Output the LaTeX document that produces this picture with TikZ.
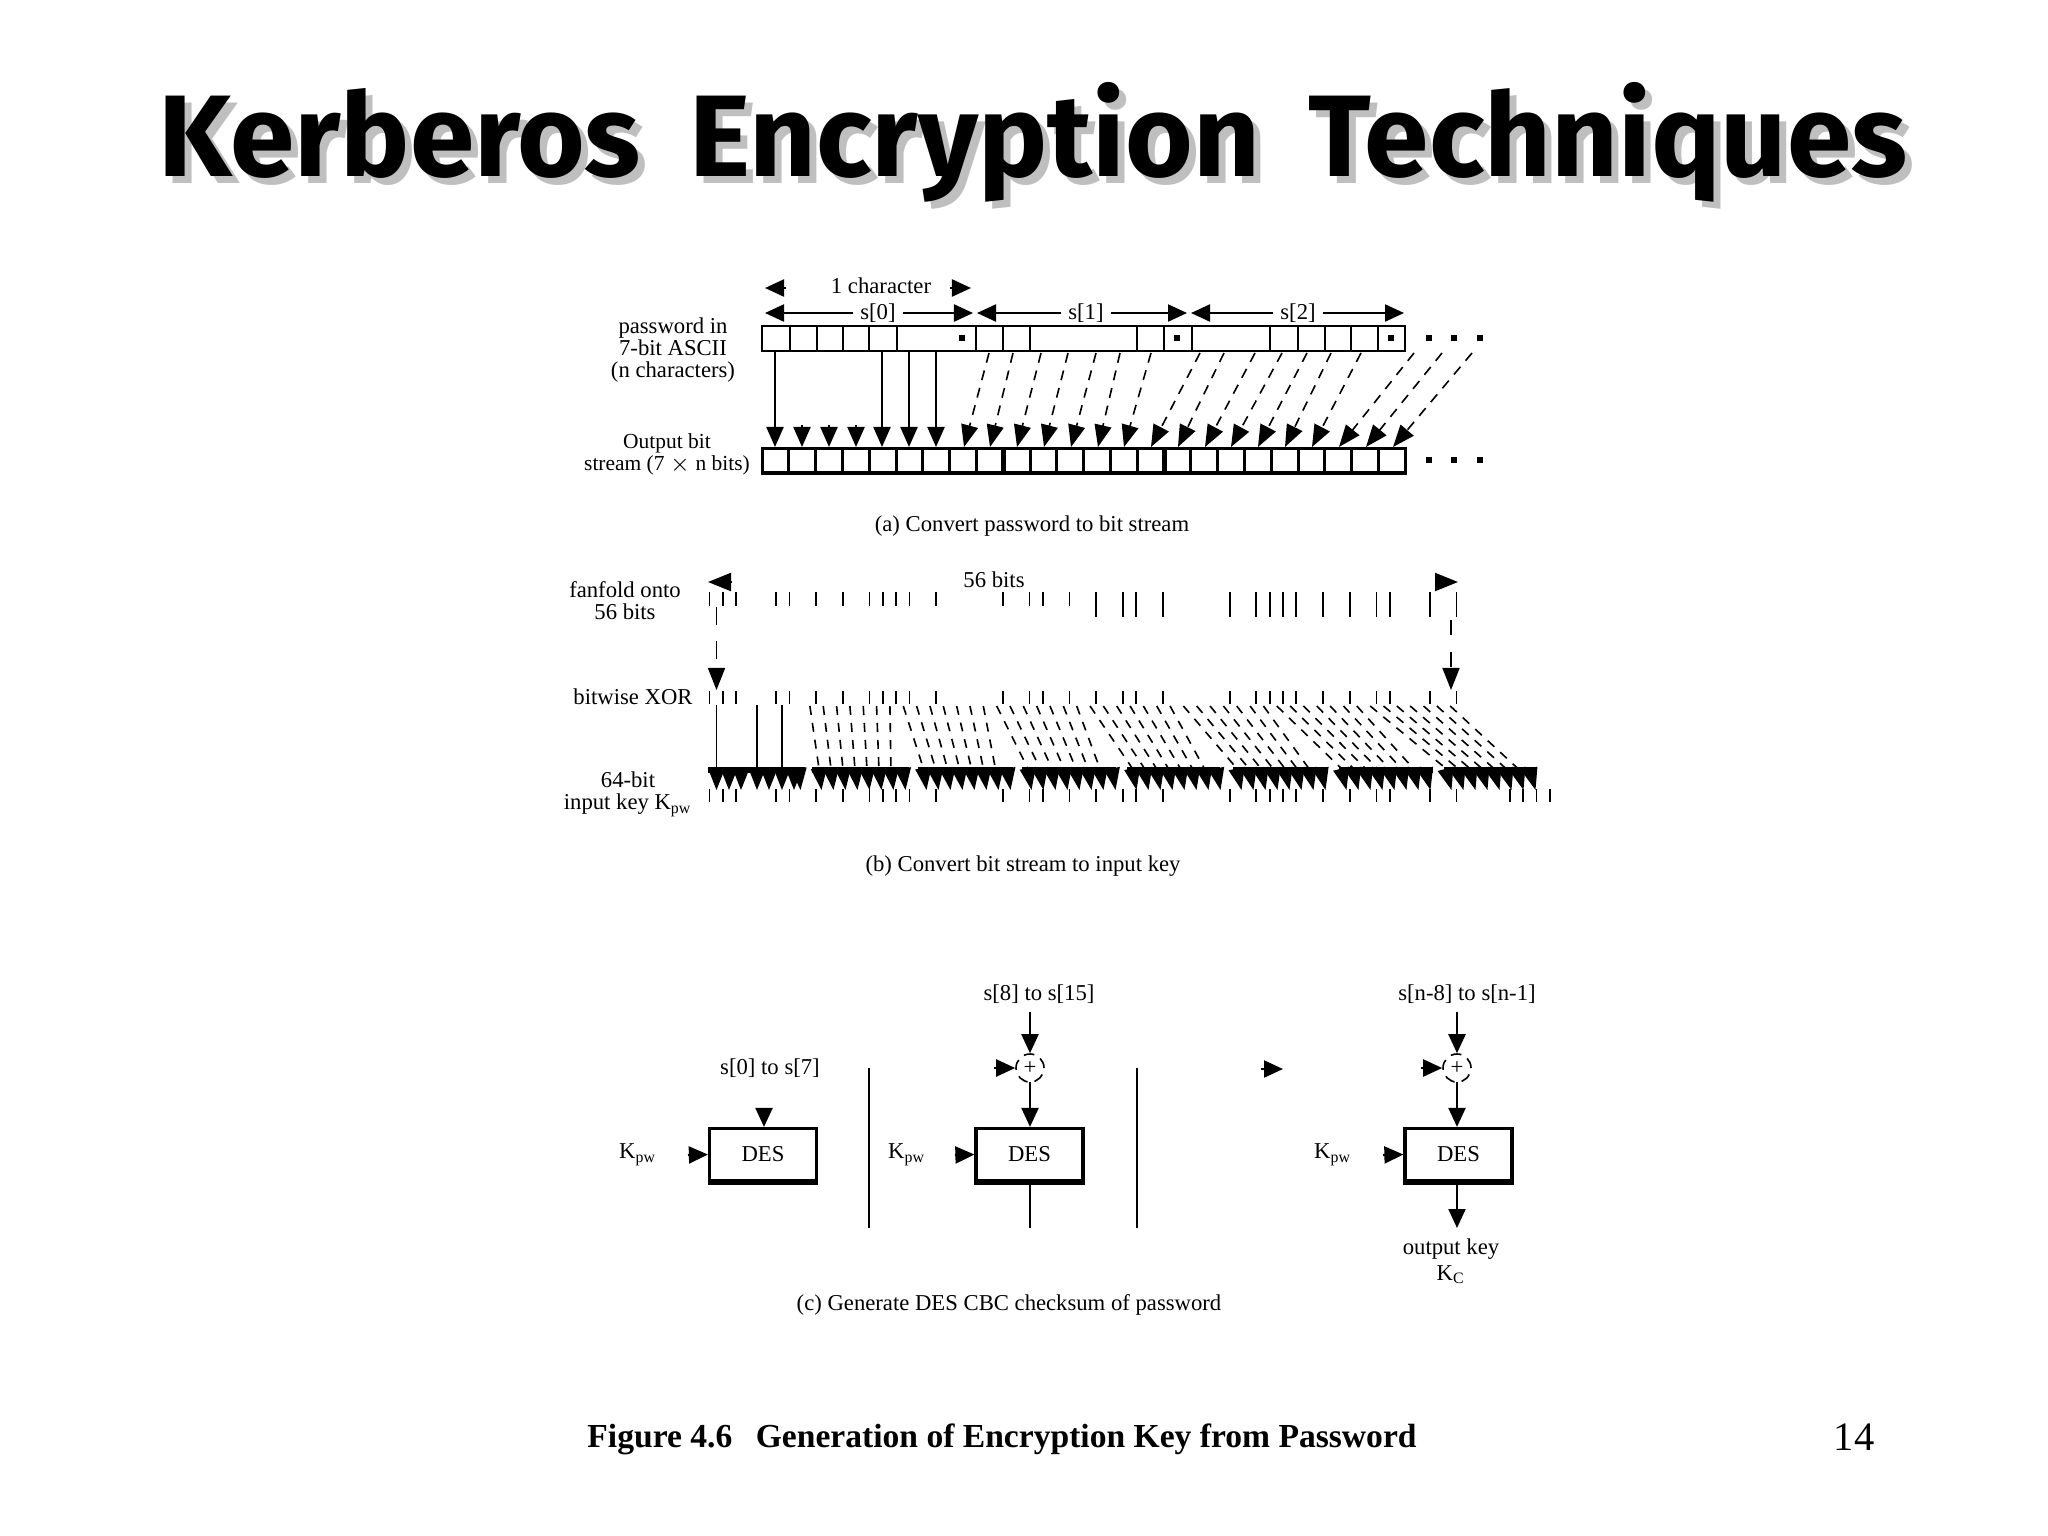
\documentclass[tikz,border=0pt]{standalone}
\usepackage{fontspec}
\usepackage{amsmath}
\usetikzlibrary{arrows.meta}
\setmainfont{Liberation Serif}
\newfontfamily\titlefont{Fira Sans}
\newcommand{\slidetitle}{Kerberos \hspace{6pt}Encryption \hspace{6pt}Techniques}

\tikzset{
    labeltext/.style={inner sep=0pt, align=center, font=\fontsize{6.45}{6.3}\selectfont},
    titletext/.style={anchor=base, inner sep=0pt, font=\titlefont\bfseries\fontsize{33}{38}\selectfont},
    barline/.style={line width=0.025cm},
    tickline/.style={line width=0.018cm},
    headarrow/.style={line width=0.022cm, -{Triangle[length=0.19cm, width=0.17cm]}},
    widearrow/.style={line width=0.022cm, -{Triangle[length=0.23cm, width=0.18cm]}},
    thinarrow/.style={line width=0.016cm, -{Triangle[length=0.22cm, width=0.17cm]}},
    slantarrow/.style={thinarrow, dash pattern=on 0.1cm off 0.08cm},
    desbox/.style={draw, line width=0.032cm, minimum width=1.07cm, minimum height=0.52cm,
        inner sep=0pt, font=\fontsize{6.45}{7.2}\selectfont},
    xorsum/.style={circle, draw, densely dashed, line width=0.016cm, minimum size=0.28cm,
        inner sep=0pt, font=\fontsize{6.45}{7.2}\selectfont},
}

\begin{document}
\begin{tikzpicture}[x=0.01cm, y=-0.01cm]
    \useasboundingbox (0,0) rectangle (2048,1536);
    \fill[white] (0,0) rectangle (2048,1536);

    % Title with its shadow
    \node[titletext, text=black!25] (titleshadow) at (1040,183) {\slidetitle};
    \node[titletext] (title) at (1033,176) {\slidetitle};

    % (a) password to bit stream
    \node[labeltext] (onechar) at (881,286) {1 character};
    \coordinate (onecharl) at (786,288);
    \coordinate (onecharlt) at (765,288);
    \coordinate (onecharr) at (950,288);
    \coordinate (onecharrt) at (971,288);
    \draw[headarrow] (onecharl) -- (onecharlt);
    \draw[headarrow] (onecharr) -- (onecharrt);

    \node[labeltext, fill=white, inner xsep=2pt] (szero) at (878,313) {s[0]};
    \node[labeltext, fill=white, inner xsep=2pt] (sone) at (1086,313) {s[1]};
    \node[labeltext, fill=white, inner xsep=2pt] (stwo) at (1298,313) {s[2]};
    \coordinate (s0l) at (765,313);
    \coordinate (s0r) at (973,313);
    \coordinate (s1l) at (977,313);
    \coordinate (s1r) at (1187,313);
    \coordinate (s2l) at (1191,313);
    \coordinate (s2r) at (1404,313);
    \draw[headarrow] (szero) -- (s0l);
    \draw[headarrow] (szero) -- (s0r);
    \draw[headarrow] (sone) -- (s1l);
    \draw[headarrow] (sone) -- (s1r);
    \draw[headarrow] (stwo) -- (s2l);
    \draw[headarrow] (stwo) -- (s2r);

    \node[labeltext] (pwlabel) at (673,350) {password in\\7-bit ASCII\\(n characters)};
    \node[labeltext, font=\fontsize{6.1}{6.3}\selectfont] (bitlabel) at (667,454) {Output bit\\stream (7 $\times$ n bits)};

    % password cells and bit cells
    \draw[barline] (762,326) rectangle (1405,351);
    \foreach \xa in {790,817,843,869,897,976,1003,1030,1137,1164,1192,1270,1298,1325,1351,1378}
        \draw[barline] (\xa,326) -- (\xa,351);
    \draw[line width=0.03cm] (762,448) rectangle (1405,473);
    \draw[line width=0.045cm] (762,473) -- (1405,473);
    \foreach \xa in {1,...,23}
        \draw[line width=0.03cm] ({762+26.8*\xa},448) -- ({762+26.8*\xa},473);
    \draw[line width=0.05cm] (1003,448) -- (1003,473);
    \draw[line width=0.05cm] (1164,448) -- (1164,473);

    % dots
    \foreach \xa/\ya in {962/338,1176.5/338,1391/338,1429/338,1454/338,1480/338,1429/460,1454/460,1480/460}
        \fill (\xa-3,\ya-3) rectangle (\xa+3,\ya+3);

    % bits into the stream
    \foreach \xa [count=\ia from 0] in {775,882,909,936} {
        \coordinate (pwa\ia) at (\xa,351);
        \coordinate (bita\ia) at (\xa,447);
        \draw[line width=0.022cm, -{Triangle[length=0.2cm, width=0.17cm]}] (pwa\ia) -- (bita\ia);
    }
    \foreach \xa [count=\ia from 1] in {802,829,856} {
        \coordinate (pwb\ia) at (\xa,425);
        \coordinate (bitb\ia) at (\xa,447);
        \draw[line width=0.022cm, -{Triangle[length=0.2cm, width=0.17cm]}] (pwb\ia) -- (bitb\ia);
    }
    \foreach \xa/\xb [count=\ia from 7] in {989/964,1013/990,1041/1017,1068/1044,1096/1071,1120/1098,1151/1124,1200/1151,1224/1178,1255/1205,1282/1231,1307/1258,1331/1285,1361/1312,1414/1339,1442/1366,1472/1393} {
        \coordinate (pwc\ia) at (\xa,353);
        \coordinate (bitc\ia) at (\xb,447);
        \draw[slantarrow] (pwc\ia) -- (bitc\ia);
    }

    % (a) caption
    \node[labeltext] (capa) at (1032,526) {(a) Convert password to bit stream};

    % (b) fanfold
    \node[labeltext] (fanlabel) at (625,601) {fanfold onto\\56 bits};
    \node[labeltext] (xorlabel) at (633,697) {bitwise XOR};
    \node[labeltext] (keylabel) at (628,794) {64-bit\\input key K$_{\text{pw}}$};
    \node[labeltext] (fiftysix) at (994,580) {56 bits};
    \coordinate (fanl) at (732,582);
    \coordinate (fanlt) at (708,582);
    \coordinate (fanr) at (1435,582);
    \coordinate (fanrt) at (1458,582);
    \draw[widearrow] (fanl) -- (fanlt);
    \draw[widearrow] (fanr) -- (fanrt);

    % bit ticks on the three rows
    \foreach \ia in {0,1,2,5,6,8,10,12,13,14,15,17,22,24,25,27,29,31,32,34,39,41,42,43,44,46,48,50,51,54,56} {
        \pgfmathsetmacro{\xa}{709.4+13.34*\ia}
        \pgfmathsetmacro{\ya}{\ia>=29 ? 617 : 606}
        \draw[tickline] (\xa,592) -- (\xa,\ya);
        \draw[tickline] (\xa,691) -- (\xa,704);
        \draw[tickline] (\xa,789) -- (\xa,802);
    }
    \foreach \ia in {60,61,62,63} {
        \pgfmathsetmacro{\xa}{709.4+13.34*\ia}
        \draw[tickline] (\xa,789) -- (\xa,802);
    }

    % fold down to the xor row
    \coordinate (foldl) at (716.5,607);
    \coordinate (foldlt) at (716.5,690);
    \coordinate (foldr) at (1451,620);
    \coordinate (foldrt) at (1451,690);
    \draw[thinarrow, dash pattern=on 0.18cm off 0.16cm] (foldl) -- (foldlt);
    \draw[thinarrow, dash pattern=on 0.15cm off 0.17cm] (foldr) -- (foldrt);

    % key byte bands
    \foreach \xa/\xb in {708/805,812/909,918/1013,1022/1116,1127/1220,1233/1327,1339/1433,1444/1536}
        \fill (\xa,767) rectangle (\xb,773);

    % straight bits of the first group
    \foreach \xa [count=\ia] in {716.5,757,782} {
        \coordinate (xa\ia) at (\xa,705);
        \coordinate (ka\ia) at (\xa,790);
        \draw[thinarrow] (xa\ia) -- (ka\ia);
    }
    \foreach \xa [count=\ia] in {729,741,769,794} {
        \coordinate (xb\ia) at (\xa,768);
        \coordinate (kb\ia) at (\xa,790);
        \draw[thinarrow] (xb\ia) -- (kb\ia);
    }

    % the other seven bytes
    \foreach \ia in {7,...,55} {
        \pgfmathtruncatemacro{\ka}{int(\ia/7)}
        \pgfmathtruncatemacro{\ma}{\ia-7*\ka}
        \pgfmathsetmacro{\xa}{716.5+13.34*\ia}
        \pgfmathsetmacro{\xb}{716.5+105*\ka+12*\ma}
        \pgfmathsetmacro{\xc}{\xb-2-0.6*\ka}
        \coordinate (xc\ia) at (\xa,706);
        \coordinate (kd\ia) at (\xc,768);
        \coordinate (kc\ia) at (\xb,790);
        \draw[line width=0.016cm, dash pattern=on 0.09cm off 0.08cm, -{Triangle[length=0.22cm, width=0.16cm]}] (xc\ia) -- (kd\ia) -- (kc\ia);
    }
    % parity bits
    \foreach \ka in {0,...,7} {
        \pgfmathsetmacro{\xb}{716.5+105*\ka+12*7}
        \pgfmathsetmacro{\xc}{\xb-2-0.6*\ka}
        \coordinate (pa\ka) at (\xc,768);
        \coordinate (pb\ka) at (\xb,790);
        \draw[line width=0.016cm, -{Triangle[length=0.22cm, width=0.16cm]}] (pa\ka) -- (pb\ka);
    }

    % (b) caption
    \node[labeltext] (capb) at (1023,866) {(b) Convert bit stream to input key};

    % (c) three stages
    \node[desbox] (desa) at (763,1154.5) {DES};
    \node[desbox] (desb) at (1029.5,1154.5) {DES};
    \node[desbox] (desc) at (1458.5,1154.5) {DES};
    \draw[line width=0.05cm] (desa.south west) -- (desa.south east);
    \draw[line width=0.05cm] (desb.south west) -- (desb.south east);
    \draw[line width=0.05cm] (desc.south west) -- (desc.south east);

    \node[xorsum] (xorb) at (1030,1068) {+};
    \node[xorsum] (xorc) at (1457,1068) {+};

    \node[labeltext] (kpwa) at (638,1155) {K$_{\text{pw}}$};
    \node[labeltext] (kpwb) at (907,1155) {K$_{\text{pw}}$};
    \node[labeltext] (kpwc) at (1333,1155) {K$_{\text{pw}}$};
    \node[labeltext] (inpa) at (770,1068) {s[0] to s[7]};
    \node[labeltext] (inpb) at (1039,994) {s[8] to s[15]};
    \node[labeltext] (inpc) at (1467,994) {s[n-8] to s[n-1]};
    \node[labeltext, font=\fontsize{6.45}{7.4}\selectfont] (outkey) at (1451,1261) {output key\\K$_{\text{C}}$};
    \node[labeltext] (capc) at (1009,1305) {(c) Generate DES CBC checksum of password};

    % stubs into the boxes
    \coordinate (ka) at (688,1155);
    \coordinate (kb) at (955,1155);
    \coordinate (kc) at (1383,1155);
    \coordinate (topa) at (764,1111);
    \coordinate (xl) at (994,1068);
    \coordinate (xr) at (1421,1068);
    \coordinate (midtip) at (1283,1069);
    \coordinate (midend) at (1261,1069);
    \draw[headarrow] (ka) -- (desa.west);
    \draw[headarrow] (kb) -- (desb.west);
    \draw[headarrow] (kc) -- (desc.west);
    \draw[headarrow] (topa) -- (topa |- desa.north);
    \draw[headarrow] (xl) -- (xorb.west);
    \draw[headarrow] (xr) -- (xorc.west);
    \draw[headarrow] (midend) -- (midtip);

    % chain lines
    \draw[headarrow] (xorb |- inpb.south) ++(0,8) -- (xorb.north);
    \draw[headarrow] (xorc |- inpc.south) ++(0,8) -- (xorc.north);
    \draw[headarrow] (xorb) ++(0,14) -- (xorb |- desb.north);
    \draw[headarrow] (xorc) ++(0,14) -- (xorc |- desc.north);
    \coordinate (bout) at (1030,1228);
    \coordinate (cout) at (1457,1228);
    \draw[barline] (bout |- desb.south) -- (bout);
    \draw[headarrow] (cout |- desc.south) -- (cout);
    \draw[barline] (869,1068) -- (869,1228);
    \draw[barline] (1137,1068) -- (1137,1228);

    % figure caption and page number
    \node[inner sep=0pt, font=\bfseries\fontsize{9.55}{11}\selectfont] (figcap) at (1002,1439) {Figure 4.6\hspace{0.7em}Generation of Encryption Key from Password};
    \node[inner sep=0pt, font=\fontsize{11.5}{13}\selectfont] (pagenum) at (1854,1437) {14};
\end{tikzpicture}
\end{document}
